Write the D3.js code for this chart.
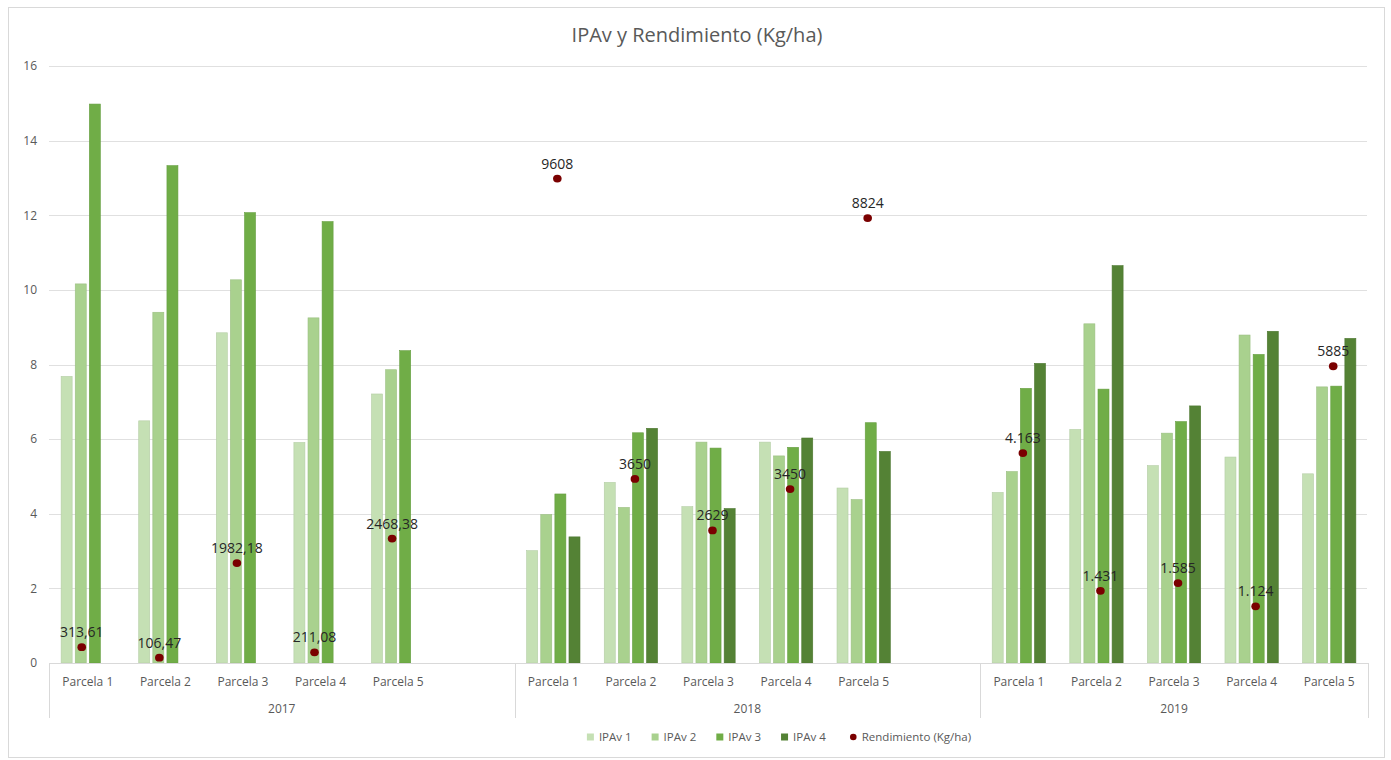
<!DOCTYPE html>
<html>
<head>
<meta charset="utf-8">
<script src="https://cdn.jsdelivr.net/npm/d3@7"></script>
<style>
  html, body { margin: 0; padding: 0; background: #ffffff; }
  svg { display: block; font-family: "Open Sans", "Noto Sans", sans-serif; }
</style>
</head>
<body>
<svg id="chart" width="1391" height="760"></svg>
<script>
// ---- data ----
const years = ["2017", "2018", "2019"];
const parcels = ["Parcela 1", "Parcela 2", "Parcela 3", "Parcela 4", "Parcela 5"];
// category list per year (2017 and 2018 carry one empty trailing category)
const yearCategories = [
  ["Parcela 1", "Parcela 2", "Parcela 3", "Parcela 4", "Parcela 5", ""],
  ["Parcela 1", "Parcela 2", "Parcela 3", "Parcela 4", "Parcela 5", ""],
  ["Parcela 1", "Parcela 2", "Parcela 3", "Parcela 4", "Parcela 5"]
];
const seriesNames = ["IPAv 1", "IPAv 2", "IPAv 3", "IPAv 4"];
const seriesColors = ["#c5e0b4", "#a9d18e", "#70ad47", "#548235"];

// values per parcel, in order 2017 P1..P5, 2018 P1..P5, 2019 P1..P5
const ipav1 = [7.68, 6.49, 8.85, 5.91, 7.21,  3.01, 4.84, 4.19, 5.92, 4.69,  4.57, 6.26, 5.29, 5.52, 5.07];
const ipav2 = [10.16, 9.40, 10.27, 9.25, 7.86,  3.98, 4.17, 5.92, 5.55, 4.38,  5.13, 9.09, 6.16, 8.79, 7.40];
const ipav3 = [14.98, 13.33, 12.07, 11.83, 8.37,  4.53, 6.17, 5.76, 5.78, 6.44,  7.36, 7.34, 6.47, 8.27, 7.42];
const ipav4 = [null, null, null, null, null,  3.38, 6.29, 4.14, 6.03, 5.67,  8.03, 10.65, 6.89, 8.89, 8.70];
const rendimiento = [313.61, 106.47, 1982.18, 211.08, 2468.38,  9608, 3650, 2629, 3450, 8824,  4163, 1431, 1585, 1124, 5885];
const rendimientoLabels = ["313,61", "106,47", "1982,18", "211,08", "2468,38",
                           "9608", "3650", "2629", "3450", "8824",
                           "4.163", "1.431", "1.585", "1.124", "5885"];
const rendimientoName = "Rendimiento (Kg/ha)";
const yTicks = [0, 2, 4, 6, 8, 10, 12, 14, 16];
const yMax = 16;
const y2Max = 11840; // secondary (hidden) axis for yield
const title = "IPAv y Rendimiento (Kg/ha)";

// ---- layout ----
const plot = { left: 49, right: 1368, top: 66, bottom: 663 };
const svg = d3.select("#chart");

// frame
svg.append("rect")
  .attr("x", 8.5).attr("y", 7.5).attr("width", 1376).attr("height", 750)
  .attr("fill", "#ffffff").attr("stroke", "#d9d9d9").attr("stroke-width", 1);

// title
svg.append("text")
  .attr("x", 697).attr("y", 42)
  .attr("text-anchor", "middle")
  .attr("fill", "#595959")
  .attr("font-size", 20)
  .text(title);

// slots for all categories
const slots = [];
yearCategories.forEach((cats, yi) => {
  cats.forEach((c, ci) => slots.push({ year: years[yi], yi, label: c, ci, id: yi + "-" + ci }));
});

const x = d3.scaleBand().domain(slots.map(s => s.id)).range([plot.left, plot.right]).padding(0);
const xInner = d3.scaleBand().domain(seriesNames).range([0, x.bandwidth()])
  .paddingInner(0.22).paddingOuter(0.86);
const y = d3.scaleLinear().domain([0, yMax]).range([plot.bottom, plot.top]);
const y2 = d3.scaleLinear().domain([0, y2Max]).range([plot.bottom, plot.top]);

// gridlines
svg.append("g").selectAll("line").data(yTicks.filter(t => t > 0)).join("line")
  .attr("x1", plot.left).attr("x2", plot.right - 1)
  .attr("y1", d => Math.round(y(d)) + 0.5).attr("y2", d => Math.round(y(d)) + 0.5)
  .attr("stroke", "#e0e0e0").attr("stroke-width", 1);

// y axis labels
const yAxis = d3.axisLeft(y).tickValues(yTicks).tickSize(0).tickPadding(0);
const gy = svg.append("g").attr("transform", "translate(37,0)").call(yAxis);
gy.select(".domain").remove();
gy.selectAll("text").attr("fill", "#595959").attr("font-size", 12)
  .attr("font-family", "'Open Sans', sans-serif");

// parcel records: map each parcel to its slot
const records = [];
years.forEach((yr, yi) => {
  parcels.forEach((p, pi) => {
    const k = yi * parcels.length + pi;
    records.push({
      slot: yi + "-" + pi, year: yr, parcel: p,
      values: [ipav1[k], ipav2[k], ipav3[k], ipav4[k]],
      rend: rendimiento[k], rendLabel: rendimientoLabels[k]
    });
  });
});

// bars
const barData = [];
records.forEach(r => r.values.forEach((v, si) => {
  if (v != null) barData.push({ slot: r.slot, series: seriesNames[si], color: seriesColors[si], v });
}));
svg.append("g").selectAll("rect").data(barData).join("rect")
  .attr("x", d => x(d.slot) + xInner(d.series))
  .attr("width", xInner.bandwidth())
  .attr("y", d => y(d.v))
  .attr("height", d => y(0) - y(d.v))
  .attr("fill", d => d.color)
  .attr("stroke", d => d3.color(d.color).darker(0.25))
  .attr("stroke-width", 0.6);

// x axis line
svg.append("line")
  .attr("x1", plot.left).attr("x2", plot.right)
  .attr("y1", plot.bottom + 0.5).attr("y2", plot.bottom + 0.5)
  .attr("stroke", "#d9d9d9");

// category labels (inner level)
svg.append("g").selectAll("text").data(slots).join("text")
  .attr("x", d => x(d.id) + x.bandwidth() / 2)
  .attr("y", 686)
  .attr("text-anchor", "middle")
  .attr("fill", "#595959").attr("font-size", 12)
  .text(d => d.label);

// year labels (outer level) and dividers
const yearSpans = years.map((yr, yi) => {
  const ids = slots.filter(s => s.yi === yi).map(s => s.id);
  return { yr, x0: x(ids[0]), x1: x(ids[ids.length - 1]) + x.bandwidth() };
});
svg.append("g").selectAll("text").data(yearSpans).join("text")
  .attr("x", d => (d.x0 + d.x1) / 2)
  .attr("y", 713)
  .attr("text-anchor", "middle")
  .attr("fill", "#595959").attr("font-size", 12)
  .text(d => d.yr);
const dividers = [yearSpans[0].x0].concat(yearSpans.map(d => d.x1));
svg.append("g").selectAll("line").data(dividers).join("line")
  .attr("x1", d => Math.round(d) + 0.5).attr("x2", d => Math.round(d) + 0.5)
  .attr("y1", plot.bottom).attr("y2", 718)
  .attr("stroke", "#d9d9d9");

// yield markers: centred on the bars present for each parcel
const dotX = r => {
  const cs = r.values.map((v, si) => v != null ? x(r.slot) + xInner(seriesNames[si]) + xInner.bandwidth() / 2 : null)
    .filter(c => c != null);
  return d3.mean(cs) + (cs.length === 4 ? 4 : 1);
};
const gDots = svg.append("g");
gDots.selectAll("ellipse").data(records).join("ellipse")
  .attr("cx", dotX).attr("cy", d => y2(d.rend))
  .attr("rx", 4.3).attr("ry", 3.9)
  .attr("fill", "#7a0000");
gDots.selectAll("text").data(records).join("text")
  .attr("x", dotX).attr("y", d => y2(d.rend) - 10)
  .attr("text-anchor", "middle")
  .attr("fill", "#262626").attr("font-size", 14)
  .text(d => d.rendLabel);

// legend
const legendItems = seriesNames.map((n, i) => ({ name: n, color: seriesColors[i], type: "rect" }))
  .concat([{ name: rendimientoName, color: "#7a0000", type: "dot" }]);
const gLeg = svg.append("g");
let lx = 0;
legendItems.forEach((it, i) => {
  const g = gLeg.append("g").attr("transform", `translate(${lx},0)`);
  if (it.type === "rect") {
    g.append("rect").attr("x", 0).attr("y", -3.5).attr("width", 7).attr("height", 7).attr("fill", it.color);
  } else {
    g.append("circle").attr("cx", 3.5).attr("cy", 0).attr("r", 3.3).attr("fill", it.color);
  }
  const t = g.append("text").attr("x", 12).attr("y", 4)
    .attr("fill", "#595959").attr("font-size", 11.5)
    .text(it.name);
  lx += 12 + t.node().getComputedTextLength() + (i === 3 ? 24 : 20);
});
const legW = lx - 20;
gLeg.attr("transform", `translate(${779 - legW / 2},737)`);
</script>
</body>
</html>
